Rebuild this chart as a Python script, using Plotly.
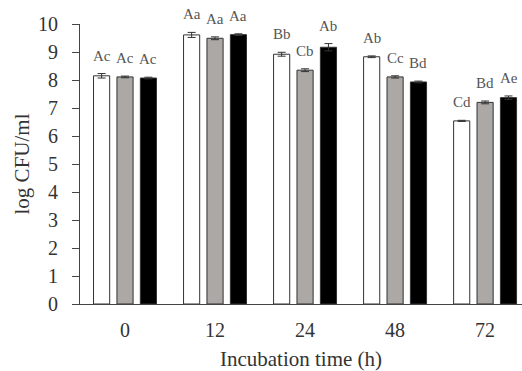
import plotly.graph_objects as go

categories = ["0", "12", "24", "48", "72"]
series_names = ["Control", "Treatment 1", "Treatment 2"]
white_vals = [8.15, 9.61, 8.92, 8.83, 6.54]
gray_vals = [8.11, 9.49, 8.35, 8.11, 7.20]
black_vals = [8.07, 9.62, 9.17, 7.93, 7.37]
white_err = [0.08, 0.09, 0.07, 0.03, 0.02]
gray_err = [0.03, 0.05, 0.05, 0.04, 0.05]
black_err = [0.03, 0.03, 0.13, 0.03, 0.06]
white_lbl = ["Ac", "Aa", "Bb", "Ab", "Cd"]
gray_lbl = ["Ac", "Aa", "Cb", "Cc", "Bd"]
black_lbl = ["Ac", "Aa", "Ab", "Bd", "Ae"]

colors = ["#ffffff", "#aba8a5", "#000000"]
FONT = "Liberation Serif"

fig = go.Figure()
series = [(white_vals, white_err, white_lbl), (gray_vals, gray_err, gray_lbl), (black_vals, black_err, black_lbl)]
for i, (vals, errs, lbls) in enumerate(series):
    fig.add_trace(go.Bar(
        x=categories, y=vals, name=series_names[i],
        marker=dict(color=colors[i], line=dict(color="#333333", width=1)),
        error_y=dict(type="data", array=errs, visible=True, color="#333333", thickness=1, width=4),
    ))

bargap = 0.22
slot = (1 - bargap) / 3
for i, (vals, errs, lbls) in enumerate(series):
    for j, (v, e, t) in enumerate(zip(vals, errs, lbls)):
        fig.add_annotation(
            x=j + (i - 1) * slot, y=v + e, xref="x", yref="y",
            text=t, showarrow=False, yanchor="bottom", yshift=8,
            font=dict(family=FONT, size=15, color="#555555"),
        )

fig.update_layout(
    width=522, height=371,
    margin=dict(l=80, r=0, t=24, b=67),
    barmode="group", bargap=bargap, bargroupgap=0.31,
    plot_bgcolor="white", paper_bgcolor="white",
    showlegend=False,
    font=dict(family=FONT, size=20, color="#333333"),
    xaxis=dict(
        type="category", range=[-0.5, 4.41], automargin=False,
        showline=True, linecolor="#444444", linewidth=1,
        ticks="outside", ticklen=8, tickcolor="rgba(0,0,0,0)",
        showgrid=False, zeroline=False,
        tickfont=dict(family=FONT, size=20, color="#333333"),
        title=dict(text="Incubation time (h)", font=dict(family=FONT, size=21, color="#333333"), standoff=18),
    ),
    yaxis=dict(
        range=[0, 10], dtick=1, automargin=False,
        showline=True, linecolor="#444444", linewidth=1,
        ticks="outside", ticklen=7, tickcolor="#444444",
        ticksuffix="\u00a0\u00a0",
        showgrid=False, zeroline=False,
        tickfont=dict(family=FONT, size=20, color="#333333"),
        title=dict(text="log CFU/ml", font=dict(family=FONT, size=21, color="#333333"), standoff=2),
    ),
)

fig.write_html("out.html")
